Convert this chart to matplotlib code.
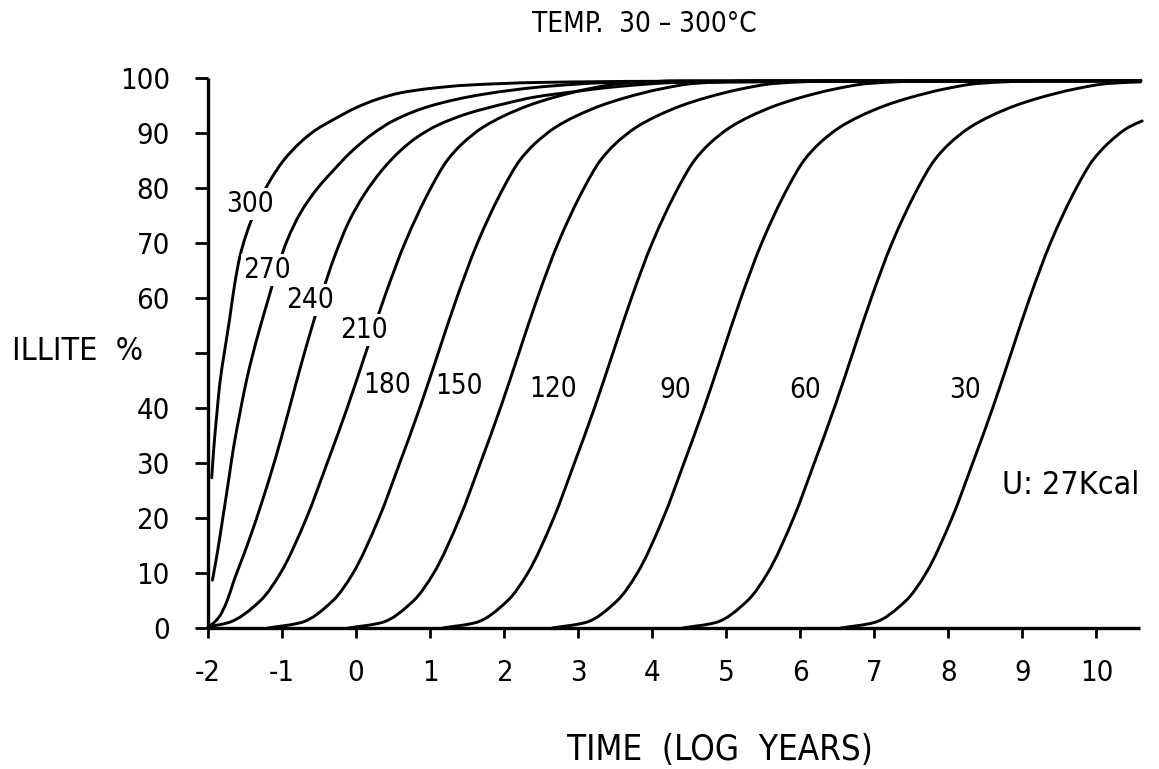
import matplotlib
matplotlib.use("Agg")
import matplotlib.pyplot as plt
from matplotlib.path import Path
from matplotlib.patches import PathPatch
import numpy as np

plt.rcParams['font.family'] = ['DejaVu Sans']
plt.rcParams['font.stretch'] = 'condensed'

# ---------------- data ----------------
TITLE = "TEMP.  30 – 300°C"
X_LABEL = "TIME  (LOG  YEARS)"
Y_LABEL = "ILLITE  %"
NOTE = "U: 27Kcal"

x_ticks = [-2, -1, 0, 1, 2, 3, 4, 5, 6, 7, 8, 9, 10]
y_ticks = [0, 10, 20, 30, 40, 50, 60, 70, 80, 90, 100]
y_tick_labels = ["0", "10", "20", "30", "40", "", "60", "70", "80", "90", "100"]

# curves for each temperature: log time (x) and illite % (y)
t300_x = [-1.95, -1.92, -1.88, -1.84, -1.78, -1.71, -1.64, -1.57, -1.49, -1.41, -1.30,
          -1.19, -0.98, -0.76, -0.55, -0.31, 0.00, 0.30, 0.60, 1.00, 1.50, 2.50, 4.00, 10.60]
t300_y = [27.3, 33, 39, 44.5, 50, 56, 62.5, 67.5, 71.3, 74.3, 77.8,
          80.7, 85, 88.2, 90.5, 92.4, 94.6, 96.2, 97.3, 98.1, 98.7, 99.2, 99.4, 99.5]

t270_x = [-1.94, -1.87, -1.80, -1.72, -1.66, -1.57, -1.48, -1.40, -1.30, -1.19, -1.06,
          -0.93, -0.75, -0.53, -0.30, -0.08, 0.20, 0.50, 1.00, 1.70, 2.60, 3.50, 10.60]
t270_y = [8.7, 14, 20, 27, 32.4, 39, 45, 49.5, 54.5, 59.6, 65.5,
          70.5, 75.5, 79.8, 83.3, 86.4, 89.6, 92.2, 94.9, 97.0, 98.5, 99.2, 99.5]

t240_x = [-2.00, -1.85, -1.74, -1.66, -1.45, -1.25, -1.09, -0.92, -0.76, -0.59, -0.45,
          -0.30, -0.10, 0.10, 0.36, 0.60, 0.82, 1.10, 1.50, 2.00, 2.40, 3.00, 3.50, 4.40, 10.60]
t240_y = [0, 2, 5, 8.2, 15.8, 23.8, 30.8, 39, 47, 55, 61.2,
          67.2, 73.8, 78.6, 83.4, 86.8, 89.2, 91.4, 93.5, 95.3, 96.5, 97.6, 98.4, 99.2, 99.5]

t210_x = [-2.00, -1.72, -1.29, -1.02, -0.67, -0.39, -0.12, 0.13, 0.38, 0.66, 1.01,
          1.23, 1.43, 1.71, 1.98, 2.33, 2.68, 3.13, 3.58, 4.43, 10.60]
t210_y = [0.2, 1, 5, 10, 20, 30, 40, 50, 60, 70, 80, 85, 88, 91, 93, 95, 96.5, 98, 99, 99.5, 99.5]

# illite % levels shared by the full S-curves (180 - 90 C)
levels = [0, 1, 5, 10, 20, 30, 40, 50, 60, 70, 80, 85, 88, 91, 93, 95, 96.5, 98, 99, 99.5, 99.5]

t180_x = [-1.19, -0.74, -0.31, -0.04, 0.31, 0.59, 0.86, 1.11, 1.36, 1.64, 1.99,
          2.21, 2.41, 2.69, 2.96, 3.31, 3.66, 4.11, 4.56, 5.41, 10.60]
t150_x = [-0.10, 0.35, 0.78, 1.05, 1.40, 1.68, 1.95, 2.20, 2.45, 2.73, 3.08,
          3.30, 3.50, 3.78, 4.05, 4.40, 4.75, 5.20, 5.65, 6.50, 10.60]
t120_x = [1.17, 1.62, 2.05, 2.32, 2.67, 2.95, 3.22, 3.47, 3.72, 4.00, 4.35,
          4.57, 4.77, 5.05, 5.32, 5.67, 6.02, 6.47, 6.92, 7.77, 10.60]
t90_x = [2.65, 3.10, 3.53, 3.80, 4.15, 4.43, 4.70, 4.95, 5.20, 5.48, 5.83,
         6.05, 6.25, 6.53, 6.80, 7.15, 7.50, 7.95, 8.40, 9.25, 10.60]

t60_x = [4.41, 4.86, 5.29, 5.56, 5.91, 6.19, 6.46, 6.71, 6.96, 7.24, 7.59,
         7.81, 8.01, 8.29, 8.56, 8.91, 9.26, 9.71, 10.16, 10.60]
t60_y = [0, 1, 5, 10, 20, 30, 40, 50, 60, 70, 80, 85, 88, 91, 93, 95, 96.5, 98, 99, 99.3]

t30_x = [6.55, 7.00, 7.43, 7.70, 8.05, 8.33, 8.60, 8.85, 9.10, 9.38, 9.73,
         9.95, 10.15, 10.43, 10.62]
t30_y = [0, 1, 5, 10, 20, 30, 40, 50, 60, 70, 80, 85, 88, 91, 92.2]

temps = ["300", "270", "240", "210", "180", "150", "120", "90", "60", "30"]
label_x = [-1.43, -1.20, -0.62, 0.11, 0.42, 1.39, 2.66, 4.31, 6.07, 8.22]
label_y = [77.1, 65.1, 59.6, 54.2, 44.2, 44.0, 43.5, 43.3, 43.3, 43.3]
label_in_gap = [True, True, True, True, False, False, False, False, False, False]

curves = [
    (t300_x, t300_y), (t270_x, t270_y), (t240_x, t240_y), (t210_x, t210_y),
    (t180_x, levels), (t150_x, levels), (t120_x, levels), (t90_x, levels),
    (t60_x, t60_y), (t30_x, t30_y),
]


# smooth, shape-preserving Bezier path through the read points
def smooth_path(xs, ys):
    x = np.asarray(xs, float)
    y = np.asarray(ys, float)
    h = np.diff(x)
    d = np.diff(y) / h
    n = len(x)
    m = np.zeros(n)
    for k in range(1, n - 1):
        if d[k - 1] * d[k] <= 0:
            m[k] = 0.0
        else:
            w1 = 2 * h[k] + h[k - 1]
            w2 = h[k] + 2 * h[k - 1]
            m[k] = (w1 + w2) / (w1 / d[k - 1] + w2 / d[k])
    m[0] = d[0]
    m[-1] = d[-1]
    verts = [(x[0], y[0])]
    codes = [Path.MOVETO]
    for k in range(n - 1):
        verts += [(x[k] + h[k] / 3, y[k] + m[k] * h[k] / 3),
                  (x[k + 1] - h[k] / 3, y[k + 1] - m[k + 1] * h[k] / 3),
                  (x[k + 1], y[k + 1])]
        codes += [Path.CURVE4] * 3
    return Path(verts, codes)


# ---------------- figure ----------------
W, H = 1159, 769
fig = plt.figure(figsize=(W / 100, H / 100), dpi=100)
ax = fig.add_axes([208 / W, 1 - 628 / H, (1140 - 208) / W, (628 - 78) / H])

for cx, cy in curves:
    patch = PathPatch(smooth_path(cx, cy), facecolor="none", edgecolor="black",
                      lw=2.1, capstyle="round", joinstyle="round", zorder=2,
                      clip_on=False)
    ax.add_patch(patch)

for t, lx, ly, gap in zip(temps, label_x, label_y, label_in_gap):
    kw = {}
    if gap:
        kw["bbox"] = dict(facecolor="white", edgecolor="none", pad=1.5)
    ax.text(lx, ly, t, ha="center", va="center", fontsize=20, zorder=3, **kw)

ax.text(8.73, 26, NOTE, ha="left", va="center", fontsize=23)

ax.set_xlim(-2, 10.59)
ax.set_ylim(0, 100)
ax.set_xticks(x_ticks)
ax.set_xticklabels([str(v) for v in x_ticks])
ax.set_yticks(y_ticks)
ax.set_yticklabels(y_tick_labels)

for s in ["top", "right"]:
    ax.spines[s].set_visible(False)
for s in ["left", "bottom"]:
    ax.spines[s].set_linewidth(2.4)
    ax.spines[s].set_color("black")
    ax.spines[s].set_capstyle("butt")

ax.tick_params(axis="y", direction="out", length=9.5, width=2.0, pad=18, labelsize=21)
ax.tick_params(axis="x", direction="out", length=7, width=2.0, pad=15, labelsize=21)

fig.text(644 / W, 1 - 24 / H, TITLE, ha="center", va="center", fontsize=20)
fig.text(12 / W, 1 - 352 / H, Y_LABEL, ha="left", va="center", fontsize=23)
fig.text(720 / W, 1 - 750 / H, X_LABEL, ha="center", va="center", fontsize=25)

fig.savefig("out.png", dpi=100, facecolor="white")
